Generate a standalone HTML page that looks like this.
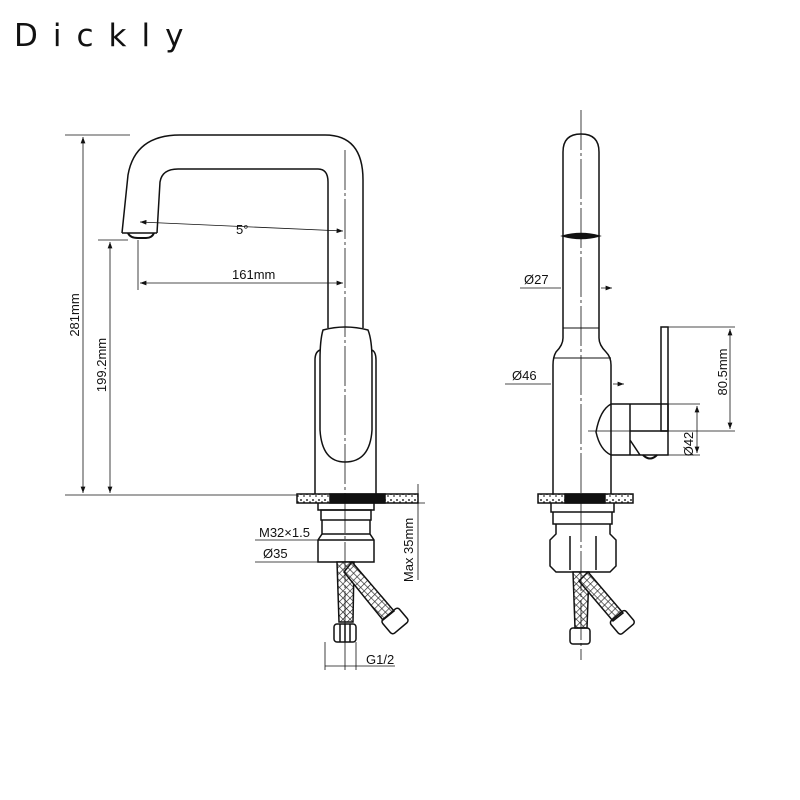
<!DOCTYPE html>
<html><head><meta charset="utf-8"><style>
html,body{margin:0;padding:0;background:#fff;width:800px;height:800px;overflow:hidden}
svg{display:block}
text{font-family:"Liberation Sans",sans-serif;fill:#111}
</style></head><body>
<svg width="800" height="800" viewBox="0 0 800 800" xmlns="http://www.w3.org/2000/svg">
<defs>
<pattern id="mesh" width="5" height="5" patternUnits="userSpaceOnUse" patternTransform="rotate(45)">
<rect width="5" height="5" fill="#fff"/><path d="M0 0H5M0 0V5" stroke="#222" stroke-width="1.3"/></pattern>
<pattern id="spk" width="6" height="6" patternUnits="userSpaceOnUse"><rect width="6" height="6" fill="#fff"/><circle cx="1" cy="2" r="1" fill="#333"/><circle cx="4" cy="4" r="0.9" fill="#333"/></pattern>
<marker id="a" markerWidth="8" markerHeight="6" refX="8" refY="3" orient="auto-start-reverse"><path d="M0,0 L8,3 L0,6z" fill="#111"/></marker>
</defs>
<text x="14" y="46" font-size="31" letter-spacing="15" style="font-family:'DejaVu Sans',sans-serif">Dickly</text>

<g fill="none" stroke="#111" stroke-width="1.5">
<path d="M122,233 L128,175 Q135,135 180,135 L325,135 Q363,135 363,180 L363,328"/>
<path d="M157,233 L160,182 Q162,169 178,169 L318,169 Q328,169 328,182 L328,328"/>
<path d="M122,233 L157,233"/>
<path d="M128,233 Q130,238 138,238 L146,238 Q152,238 154,233" stroke-width="2"/>
<path d="M323,330 Q345,324 368,330 Q372,340 372,360 L372,430 Q370,462 345,462 Q322,462 320,430 L320,360 Q320,340 323,330Z"/>
<path d="M320,350 Q315,352 315,360 L315,495 M372,350 Q376,352 376,360 L376,495"/>
<rect x="297" y="494" width="121" height="9" fill="url(#spk)"/>
<rect x="330" y="494" width="55" height="9" fill="#111"/>
<path d="M318,503 L318,510 L374,510 L374,503"/>
<rect x="321" y="510" width="50" height="10"/>
<path d="M322,520 L322,534 L318,540 L318,562 L374,562 L374,540 L370,534 L370,520"/>
<path d="M322,534 L370,534 M318,540 L374,540"/>
<path d="M337,562 L339,622 L353,622 L354,562Z" fill="url(#mesh)"/>
<path d="M352,562 L394,611 L383,620 L344,572Z" fill="url(#mesh)"/>
<rect x="334" y="624" width="22" height="18" rx="3"/>
<path d="M340,624V642M345,624V642M350,624V642"/>
<rect x="384" y="612" width="22" height="18" rx="3" transform="rotate(-40 395 621)"/>
<path d="M345,150 V670" stroke-width="0.8" stroke-dasharray="40 3 3 3"/>

<path d="M65,135 H130 M65,495 H297 M98,240 H128" stroke-width="0.8"/>
<path d="M83,137 V493" stroke-width="0.8" marker-start="url(#a)" marker-end="url(#a)"/>
<path d="M110,242 V493" stroke-width="0.8" marker-start="url(#a)" marker-end="url(#a)"/>
<path d="M138,240 V290" stroke-width="0.8"/>
<path d="M140,283 H343" stroke-width="0.8" marker-start="url(#a)" marker-end="url(#a)"/>
<path d="M140,222 L343,231" stroke-width="0.8" marker-start="url(#a)" marker-end="url(#a)"/>
<path d="M418,484 V580 M390,503 H425" stroke-width="0.8"/>
<path d="M255,540 H318 M255,562 H318" stroke-width="0.8"/>
<path d="M325,642 V670 M356,642 V670 M325,666 H395" stroke-width="0.8"/>

<path d="M563,338 L563,152 Q563,134 581,134 Q599,134 599,152 L599,338 Q599,345 606,352 Q611,357 611,365 L611,495 M563,338 Q563,345 556,352 Q553,357 553,365 L553,495"/>
<path d="M563,236 Q581,231 599,236 Q581,241 563,236Z" fill="#111"/>
<path d="M563,328 H599 M553,358 H611" stroke-width="0.9"/>
<path d="M611,404 L668,404 L668,455 L611,455 Q600,450 596,432 Q600,410 611,404Z"/>
<path d="M630,404 V455 M630,431 H668 M630,440 L640,455"/>
<rect x="661" y="327" width="7" height="104"/>
<path d="M643,455 Q650,462 657,455" stroke-width="2"/>
<rect x="538" y="494" width="95" height="9" fill="url(#spk)"/>
<rect x="565" y="494" width="40" height="9" fill="#111"/>
<path d="M551,503 L551,512 L614,512 L614,503 M553,512 V524 H612 V512"/>
<path d="M556,524 L556,534 L550,540 L550,566 L556,572 L610,572 L616,566 L616,540 L610,534 L610,524"/>
<path d="M570,536 V570 M596,536 V570"/>
<path d="M573,572 L575,628 L587,628 L589,572Z" fill="url(#mesh)"/>
<path d="M588,572 L623,613 L613,621 L579,581Z" fill="url(#mesh)"/>
<rect x="570" y="628" width="20" height="16" rx="3"/>
<rect x="612" y="614" width="20" height="17" rx="3" transform="rotate(-40 622 622)"/>
<path d="M581,110 V660" stroke-width="0.8" stroke-dasharray="40 3 3 3"/>
<path d="M520,288 H561 M601,288 H612" stroke-width="0.8" marker-end="url(#a)"/>
<path d="M505,384 H551 M613,384 H624" stroke-width="0.8" marker-end="url(#a)"/>
<path d="M668,327 H735 M668,431 H735 M668,404 H700 M668,455 H700 M588,431 H640" stroke-width="0.8"/>
<path d="M730,329 V429" stroke-width="0.8" marker-start="url(#a)" marker-end="url(#a)"/>
<path d="M697,406 V453" stroke-width="0.8" marker-start="url(#a)" marker-end="url(#a)"/>
</g>

<g font-size="13">
<text x="236" y="234">5°</text>
<text x="232" y="279">161mm</text>
<text transform="translate(79,315) rotate(-90)" text-anchor="middle">281mm</text>
<text transform="translate(106,365) rotate(-90)" text-anchor="middle">199.2mm</text>
<text x="259" y="537">M32×1.5</text>
<text x="263" y="558">Ø35</text>
<text transform="translate(413,550) rotate(-90)" text-anchor="middle">Max 35mm</text>
<text x="366" y="664">G1/2</text>
<text x="524" y="284">Ø27</text>
<text x="512" y="380">Ø46</text>
<text transform="translate(727,372) rotate(-90)" text-anchor="middle">80.5mm</text>
<text transform="translate(693,444) rotate(-90)" text-anchor="middle">Ø42</text>
</g>
</svg>
</body></html>
